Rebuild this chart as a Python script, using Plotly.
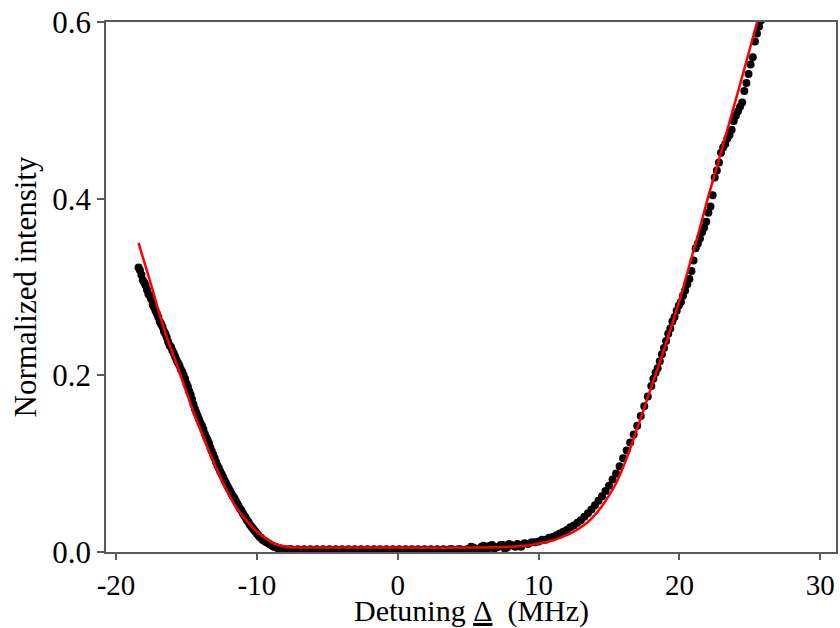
import plotly.graph_objects as go

# Measured data (black dots)
x_data = [
    -18.4, -18.2, -18.0, -17.8, -17.6, -17.4, -17.2, -17.0, -16.8, -16.6,
    -16.4, -16.2, -16.0, -15.8, -15.6, -15.4, -15.2, -15.0, -14.8, -14.6,
    -14.4, -14.2, -14.0, -13.8, -13.6, -13.4, -13.2, -13.0, -12.8, -12.6,
    -12.4, -12.2, -12.0, -11.8, -11.6, -11.4, -11.2, -11.0, -10.8, -10.6,
    -10.4, -10.2, -10.0, -9.8, -9.6, -9.4, -9.2, -9.0, -8.8, -8.6,
    -8.4, -8.2, -8.0,
    -18.3, -18.1, -17.9, -17.7, -17.5, -17.3, -17.1, -16.9, -16.7, -16.5,
    -16.3, -16.1, -15.9, -15.7, -15.5, -15.3, -15.1, -14.9, -14.7, -14.5,
    -14.3, -14.1, -13.9, -13.7, -13.5, -13.3, -13.1, -12.9, -12.7, -12.5,
    -12.3, -12.1, -11.9, -11.7, -11.5, -11.3, -11.1, -10.9, -10.7, -10.5,
    -10.3, -10.1, -9.9, -9.7, -9.5, -9.3, -9.1, -8.9, -8.7, -8.5,
    -8.3, -8.1,
    -7.7, -7.4, -7.1, -6.8, -6.5, -6.2, -5.9, -5.6, -5.3, -5.0,
    -4.7, -4.4, -4.1, -3.8, -3.5, -3.2, -2.9, -2.6, -2.3, -2.0,
    -1.7, -1.4, -1.1, -0.8, -0.5, -0.2, 0.1, 0.4, 0.7, 1.0,
    1.3, 1.6, 1.9, 2.2, 2.5, 2.8, 3.1, 3.4, 3.7, 4.0,
    4.3, 4.6, 4.9, 5.2, 5.5, 5.8, 6.1, 6.4, 6.7, 7.0,
    7.3, 7.6, 7.9, 8.2,
    -7.85, -7.55, -7.25, -6.95, -6.65, -6.35, -6.05, -5.75, -5.45, -5.15,
    -4.85, -4.55, -4.25, -3.95, -3.65, -3.35, -3.05, -2.75, -2.45, -2.15,
    -1.85, -1.55, -1.25, -0.95, -0.65, -0.35, -0.05, 0.25, 0.55, 0.85,
    1.15, 1.45, 1.75, 2.05, 2.35, 2.65, 2.95, 3.25, 3.55, 3.85,
    4.15, 4.45, 4.75, 5.05, 5.35, 5.65, 5.95, 6.25, 6.55, 6.85,
    7.15, 7.45, 7.75, 8.05, 8.35,
    8.5, 8.75, 9.0, 9.25, 9.5, 9.75, 10.0, 10.25, 10.5, 10.75,
    11.0, 11.25, 11.5, 11.75, 12.0, 12.25, 12.5, 12.75, 13.0, 13.25,
    13.5, 13.75, 14.0, 14.25, 14.5, 14.75, 15.0, 15.25, 15.5, 15.75,
    16.0, 16.25, 16.5, 16.75, 17.0, 17.25, 17.5, 17.75, 18.0,
    18.15, 18.3, 18.45, 18.6, 18.75, 18.9, 19.05, 19.2, 19.35, 19.5,
    19.65, 19.8, 19.95, 20.1, 20.25, 20.4, 20.55, 20.7, 20.85, 21.0,
    21.15, 21.3, 21.45, 21.6, 21.75, 21.9, 22.05, 22.2, 22.35, 22.5,
    22.65, 22.8, 22.95, 23.1, 23.25, 23.4, 23.55, 23.7, 23.85, 24.0,
    24.15, 24.3, 24.45, 24.6, 24.75, 24.9, 25.05, 25.2, 25.35, 25.5,
    25.65, 25.8,
]
y_data = [
    0.322, 0.314, 0.305, 0.297, 0.290, 0.280, 0.273, 0.266, 0.258, 0.250,
    0.243, 0.234, 0.228, 0.221, 0.214, 0.207, 0.200, 0.191, 0.182, 0.173,
    0.162, 0.154, 0.146, 0.139, 0.130, 0.123, 0.114, 0.106, 0.098, 0.091,
    0.085, 0.078, 0.072, 0.066, 0.061, 0.055, 0.049, 0.044, 0.039, 0.034,
    0.029, 0.025, 0.021, 0.017, 0.014, 0.012, 0.010, 0.008, 0.006, 0.005,
    0.004, 0.003, 0.003,
    0.319, 0.308, 0.302, 0.292, 0.286, 0.277, 0.270, 0.261, 0.255, 0.247,
    0.238, 0.232, 0.225, 0.217, 0.211, 0.204, 0.196, 0.187, 0.178, 0.167,
    0.158, 0.150, 0.143, 0.134, 0.127, 0.118, 0.110, 0.102, 0.095, 0.088,
    0.081, 0.075, 0.069, 0.063, 0.058, 0.052, 0.047, 0.041, 0.036, 0.031,
    0.027, 0.023, 0.019, 0.016, 0.013, 0.011, 0.009, 0.007, 0.006, 0.004,
    0.004, 0.003,
    0.003, 0.002, 0.003, 0.002, 0.002, 0.003, 0.002, 0.002, 0.003, 0.002,
    0.002, 0.003, 0.002, 0.002, 0.003, 0.002, 0.002, 0.003, 0.002, 0.002,
    0.003, 0.002, 0.002, 0.003, 0.002, 0.002, 0.003, 0.002, 0.002, 0.003,
    0.002, 0.002, 0.003, 0.002, 0.002, 0.003, 0.002, 0.002, 0.003, 0.002,
    0.003, 0.002, 0.003, 0.006, 0.004, 0.003, 0.007, 0.004, 0.008, 0.005,
    0.008, 0.004, 0.009, 0.007,
    0.002, 0.003, 0.002, 0.002, 0.003, 0.002, 0.002, 0.003, 0.002, 0.002,
    0.003, 0.002, 0.002, 0.003, 0.002, 0.002, 0.003, 0.002, 0.002, 0.003,
    0.002, 0.002, 0.003, 0.002, 0.002, 0.003, 0.002, 0.002, 0.003, 0.002,
    0.002, 0.003, 0.002, 0.002, 0.003, 0.002, 0.002, 0.003, 0.002, 0.003,
    0.002, 0.003, 0.002, 0.003, 0.005, 0.003, 0.006, 0.003, 0.007, 0.004,
    0.006, 0.008, 0.005, 0.008, 0.006,
    0.009, 0.006, 0.010, 0.009, 0.011, 0.011, 0.012, 0.014, 0.014, 0.016,
    0.017, 0.019, 0.021, 0.023, 0.025, 0.028, 0.030, 0.033, 0.036, 0.040,
    0.044, 0.048, 0.053, 0.058, 0.063, 0.069, 0.075, 0.082, 0.089, 0.097,
    0.106, 0.115, 0.124, 0.133, 0.143, 0.154, 0.165, 0.176, 0.188,
    0.196, 0.203, 0.208, 0.216, 0.224, 0.231, 0.239, 0.247, 0.253, 0.261,
    0.266, 0.273, 0.279, 0.283, 0.290, 0.296, 0.303, 0.309, 0.318, 0.330,
    0.344, 0.349, 0.355, 0.362, 0.367, 0.374, 0.384, 0.391, 0.404, 0.424,
    0.432, 0.441, 0.452, 0.458, 0.462, 0.468, 0.472, 0.478, 0.488, 0.494,
    0.499, 0.504, 0.509, 0.522, 0.531, 0.541, 0.552, 0.560, 0.578, 0.587,
    0.595, 0.602,
]

# Fitted curve (red line)
x_fit = [
    -18.4, -17.5, -16.6, -15.6, -14.6, -13.6, -12.6, -11.6, -10.6, -9.6,
    -8.6, -7.6, -6.0, 0.0, 6.0, 8.0, 9.0, 10.0, 10.5, 11.0,
    11.5, 12.0, 12.5, 13.0, 13.5, 14.0, 14.5, 15.0, 15.5, 16.0,
    16.5, 17.0, 17.5, 18.0, 18.5, 19.0, 19.6, 20.2, 20.8, 21.4,
    22.0, 22.6, 23.2, 23.8, 24.4, 25.0, 25.6,
]
y_fit = [
    0.350, 0.302, 0.253, 0.208, 0.163, 0.122, 0.085, 0.054, 0.033, 0.018,
    0.0085, 0.0055, 0.005, 0.005, 0.005, 0.006, 0.007, 0.0095, 0.011, 0.013,
    0.016, 0.019, 0.023, 0.028, 0.034, 0.042, 0.052, 0.064, 0.078, 0.096,
    0.117, 0.140, 0.163, 0.187, 0.210, 0.234, 0.264, 0.296, 0.330, 0.364,
    0.400, 0.433, 0.467, 0.501, 0.535, 0.570, 0.605,
]

x_tickvals = [-20, -10, 0, 10, 20, 30]
x_ticktext = ["-20", "-10", "0", "10", "20", "30"]
y_tickvals = [0.0, 0.2, 0.4, 0.6]
y_ticktext = ["0.0", "0.2", "0.4", "0.6"]
x_title = "Detuning <u>Δ</u>\u00a0 (MHz)"
y_title = "Normalized intensity"

FONT = "Liberation Serif, Times New Roman, serif"
AX = "#5a5a5a"

fig = go.Figure()
fig.add_trace(go.Scatter(
    x=x_data, y=y_data, mode="markers",
    marker=dict(color="black", size=8),
    showlegend=False,
))
fig.add_trace(go.Scatter(
    x=x_fit, y=y_fit, mode="lines",
    line=dict(color="#ff0000", width=2.5, shape="spline", smoothing=0.6),
    showlegend=False,
))

fig.update_layout(
    width=840, height=628,
    margin=dict(l=106, r=2, t=22, b=76),
    paper_bgcolor="white", plot_bgcolor="white",
    font=dict(family=FONT, size=31, color="black"),
)
fig.update_xaxes(
    range=[-20.71, 31.11],
    tickvals=x_tickvals, ticktext=x_ticktext,
    ticks="outside", ticklen=6, tickwidth=1.5, tickcolor=AX,
    showline=True, linecolor=AX, linewidth=1.5, mirror=True,
    showgrid=False, zeroline=False,
    tickfont=dict(family=FONT, size=29),
)
fig.update_yaxes(
    range=[0, 0.6],
    tickvals=y_tickvals, ticktext=y_ticktext,
    ticks="outside", ticklen=7, tickwidth=1.5, tickcolor=AX,
    showline=True, linecolor=AX, linewidth=1.5, mirror=True,
    showgrid=False, zeroline=False,
    tickfont=dict(family=FONT, size=31),
    title=dict(text=y_title, font=dict(family=FONT, size=31), standoff=6),
)
fig.add_annotation(
    text=x_title, xref="paper", yref="paper", x=0.5, y=0,
    xanchor="center", yanchor="bottom", yshift=-78,
    showarrow=False, font=dict(family=FONT, size=30, color="black"),
)

fig.write_html("out.html")
